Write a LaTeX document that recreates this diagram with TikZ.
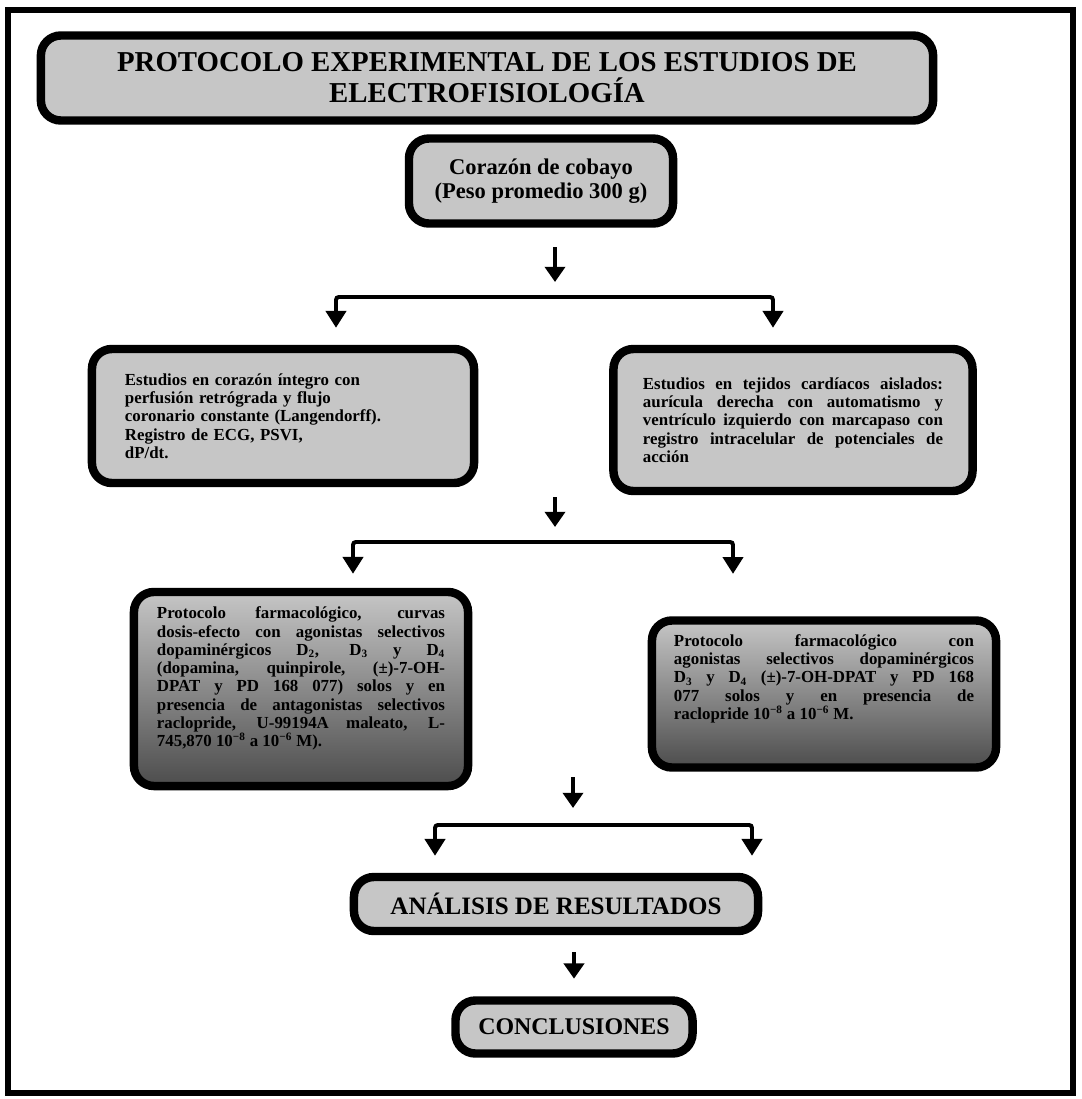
\documentclass[tikz,border=0pt]{standalone}
\usepackage{fontspec}
\setmainfont{Liberation Serif}
\usetikzlibrary{arrows.meta}

\begin{document}
\begin{tikzpicture}[x=0.025cm, y=-0.025cm,
    caja/.style={draw=black, line width=6pt, rounded corners=0.5cm, fill=gray!45, inner sep=0pt},
    flecha/.style={line width=3.5pt, -{Triangle[width=0.5cm,length=0.38cm]}},
    horquilla/.style={line width=2.8pt, rounded corners=2pt,
        {Triangle[width=0.5cm,length=0.42cm]}-{Triangle[width=0.5cm,length=0.42cm]}}]
    \useasboundingbox (0,0) rectangle (1082,1099);
    \draw[line width=4.3pt] (8,10) rectangle (1073,1093);

    % cajas
    \node[caja, minimum width=22.3cm, minimum height=2.125cm, align=center,
          font=\bfseries\fontsize{20.5}{22}\selectfont] (titulo) at (487,78)
        {PROTOCOLO EXPERIMENTAL DE LOS ESTUDIOS DE\\ELECTROFISIOLOGÍA};
    \node[caja, minimum width=6.6cm, minimum height=2.125cm, align=center,
          font=\bfseries\fontsize{16}{17}\selectfont] (corazon) at (541,181)
        {Corazón de cobayo\\(Peso promedio 300 g)};
    \node[caja, minimum width=9.55cm, minimum height=3.35cm, text width=7.9cm, align=left,
          font=\bfseries\fontsize{12}{13}\selectfont] (estA) at (283,416)
        {Estudios en corazón íntegro con\\perfusión retrógrada y flujo\\coronario constante (Langendorff).\\Registro de ECG, PSVI,\\dP/dt.};
    \node[caja, minimum width=8.975cm, minimum height=3.55cm, text width=7.5cm, align=justify,
          font=\bfseries\fontsize{12}{13}\selectfont] (estB) at (793,420)
        {Estudios en tejidos cardíacos aislados:\linebreak aurícula derecha con automatismo y\linebreak ventrículo izquierdo con marcapaso con\linebreak registro intracelular de potenciales de\linebreak acción};
    \node[caja, top color=gray!45, middle color=gray!50, bottom color=black!70,
          minimum width=8.35cm, minimum height=4.85cm, text width=7.2cm, align=justify,
          font=\bfseries\fontsize{12}{13}\selectfont] (protA) at (301,689)
        {Protocolo farmacológico, curvas\linebreak dosis-efecto con agonistas selectivos\linebreak dopaminérgicos D\textsubscript{2}, D\textsubscript{3} y D\textsubscript{4}\linebreak (dopamina, quinpirole, (±)-7-OH-\linebreak DPAT y PD 168 077) solos y en\linebreak presencia de antagonistas selectivos\linebreak raclopride, U-99194A maleato, L-\linebreak 745,870 10\textsuperscript{−8} a 10\textsuperscript{−6} M).\par\vspace{0.15cm}\null};
    \node[caja, top color=gray!45, middle color=gray!50, bottom color=black!70,
          minimum width=8.6cm, minimum height=3.675cm, text width=7.5cm, align=justify,
          font=\bfseries\fontsize{12}{13}\selectfont] (protB) at (824,694)
        {Protocolo farmacológico con\linebreak agonistas selectivos dopaminérgicos\linebreak D\textsubscript{3} y D\textsubscript{4} (±)-7-OH-DPAT y PD 168\linebreak 077 solos y en presencia de\linebreak raclopride 10\textsuperscript{−8} a 10\textsuperscript{−6} M.\par\vspace{0.4cm}\null};
    \node[caja, minimum width=10.1cm, minimum height=1.35cm,
          font=\bfseries\fontsize{17.8}{19}\selectfont] (analisis) at (556,904) {ANÁLISIS DE RESULTADOS};
    \node[caja, minimum width=5.925cm, minimum height=1.325cm,
          font=\bfseries\fontsize{17}{19}\selectfont] (concl) at (574,1027) {CONCLUSIONES};

    % flechas
    \coordinate (fork1) at (555,297);
    \coordinate (fork1l) at (336,297);
    \coordinate (fork1r) at (773,297);
    \coordinate (fork2) at (555,542);
    \coordinate (fork2l) at (353,542);
    \coordinate (fork2r) at (733,542);
    \coordinate (fork3) at (573,825);
    \coordinate (fork3l) at (435,825);
    \coordinate (fork3r) at (752,825);

    \draw[flecha, shorten <=0.49cm, shorten >=0.375cm] (corazon.south -| fork1) -- (fork1);
    \draw[horquilla, shorten <=0.425cm, shorten >=0.425cm]
        (fork1l |- estA.north) -- (fork1l) -- (fork1r) -- (fork1r |- estB.north);

    \draw[flecha, shorten <=0.25cm, shorten >=0.375cm] (estA.south -| fork2) -- (fork2);
    \draw[horquilla, shorten <=0.35cm, shorten >=1.06cm]
        (fork2l |- protA.north) -- (fork2l) -- (fork2r) -- (fork2r |- protB.north);

    \draw[flecha, shorten <=0.14cm, shorten >=0.425cm] (protB.south -| fork3) -- (fork3);
    \draw[horquilla, shorten <=0.425cm, shorten >=0.425cm]
        (fork3l |- analisis.north) -- (fork3l) -- (fork3r) -- (fork3r |- analisis.north);

    \draw[flecha, shorten <=0.42cm, shorten >=0.44cm] (analisis.south -| concl.north) -- (concl.north);
\end{tikzpicture}
\end{document}
